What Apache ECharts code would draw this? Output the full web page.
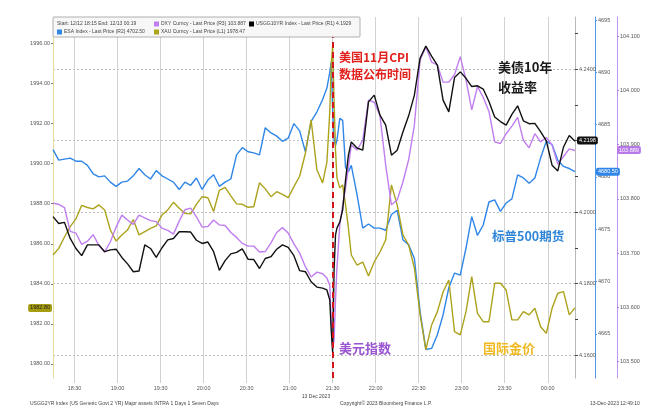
<!DOCTYPE html>
<html><head><meta charset="utf-8">
<script src="https://cdn.jsdelivr.net/npm/echarts@6/dist/echarts.min.js"></script>
<style>html,body{margin:0;padding:0;background:#fff}#c{width:654px;height:410px}</style>
</head><body><div id="c"></div>
<script>
// ---- data ----
const times = [
'18:15','18:19','18:23','18:27','18:31','18:35','18:39','18:43','18:47','18:51',
'18:55','18:59','19:03','19:07','19:11','19:15','19:19','19:23','19:27','19:31',
'19:35','19:39','19:43','19:47','19:51','19:55','19:59','20:03','20:07','20:11',
'20:15','20:19','20:23','20:27','20:31','20:35','20:39','20:43','20:47','20:51',
'20:55','20:59','21:03','21:07','21:11','21:15','21:19','21:23',
'21:26','21:28','21:29','21:30','21:31','21:32','21:33',
'21:35','21:37','21:39','21:41','21:43',
'21:47','21:51','21:55','21:59','22:03','22:07','22:11','22:15','22:19','22:23',
'22:27','22:31','22:35','22:39','22:43','22:47','22:51','22:55','22:59','23:03',
'23:07','23:11','23:15','23:19','23:23','23:27','23:31','23:35','23:39','23:43',
'23:47','23:51','23:55','23:59','00:03','00:07','00:11','00:15','00:19'];

// ESA Index (S&P 500 futures), right axis R2
const esa = [
4682.6,4681.6,4681.7,4681.8,4681.5,4681.5,4681.1,4680.3,4680.0,4680.1,
4679.5,4679.1,4679.5,4679.6,4680.1,4680.8,4680.2,4679.8,4680.6,4680.1,
4679.8,4679.5,4678.8,4679.5,4679.2,4679.9,4678.8,4679.7,4680.2,4679.1,
4679.5,4679.8,4682.1,4682.8,4682.4,4682.3,4682.1,4684.7,4684.2,4683.9,
4683.4,4683.7,4685.1,4684.4,4682.4,4685.3,4686.2,4687.4,
4688.5,4690.0,4691.0,4686.4,4683.5,4683.0,4683.5,
4685.6,4685.4,4680.9,4680.5,4681.1,
4678.3,4675.1,4675.5,4675.1,4675.1,4674.9,4676.4,4676.8,4674.0,4673.5,
4672.2,4667.1,4663.5,4663.6,4664.9,4666.8,4669.4,4670.8,4670.6,4673.2,
4676.2,4674.4,4675.4,4677.6,4677.8,4676.7,4677.5,4677.9,4680.2,4679.9,
4679.4,4679.9,4681.8,4683.4,4683.1,4681.6,4681.0,4680.8,4680.5];

// DXY Curncy (dollar index), right axis R3
const dxy = [
103.792,103.790,103.784,103.740,103.737,103.716,103.722,103.734,103.714,103.702,
103.721,103.748,103.770,103.761,103.753,103.770,103.765,103.760,103.758,103.746,
103.742,103.735,103.759,103.780,103.783,103.767,103.748,103.749,103.761,103.752,
103.751,103.738,103.729,103.718,103.713,103.713,103.702,103.703,103.719,103.738,
103.747,103.737,103.717,103.700,103.675,103.656,103.665,103.662,
103.654,103.641,103.577,103.525,103.540,103.614,103.673,
103.752,103.789,103.820,103.859,103.899,
103.890,103.908,103.982,103.978,103.953,103.862,103.789,103.798,103.831,103.872,
103.936,104.056,104.080,104.052,104.047,104.015,104.015,104.029,104.062,104.019,
103.964,104.007,103.987,103.961,103.905,103.902,103.920,103.934,103.950,103.908,
103.894,103.920,103.905,103.913,103.899,103.864,103.878,103.892,103.889];

// XAU Curncy (gold), left axis L1
const xau = [
1985.44,1985.77,1986.34,1986.86,1987.24,1987.92,1987.81,1987.74,1987.94,1987.69,
1986.69,1986.14,1986.44,1986.69,1987.21,1986.44,1986.61,1986.77,1986.89,1987.44,
1987.69,1988.07,1987.77,1987.52,1987.49,1987.97,1988.35,1988.30,1987.61,1988.67,
1988.82,1988.39,1987.99,1987.97,1987.82,1987.85,1989.05,1988.74,1988.35,1988.60,
1988.47,1988.30,1988.85,1989.37,1990.52,1992.18,1989.70,1989.04,
1990.08,1992.58,1994.93,1995.88,1993.18,1990.68,1989.29,
1988.79,1988.94,1987.94,1986.79,1985.44,
1984.94,1985.09,1984.39,1985.09,1985.59,1986.19,1988.94,1987.94,1986.44,1985.94,
1984.79,1982.45,1980.70,1981.95,1982.60,1983.59,1984.19,1981.61,1981.45,1982.61,
1984.36,1982.53,1982.11,1982.11,1984.03,1984.03,1983.69,1982.20,1982.20,1982.61,
1982.45,1982.78,1981.86,1981.53,1982.78,1983.53,1983.61,1982.45,1982.80];

// USGG10YR Index (10Y yield), right axis R1
const us10y = [
4.1987,4.1968,4.1971,4.1926,4.1898,4.1878,4.1908,4.1908,4.1908,4.1889,
4.1894,4.1896,4.1873,4.1855,4.1833,4.1835,4.1908,4.1898,4.1873,4.1900,
4.1922,4.1926,4.1945,4.1945,4.1944,4.1921,4.1912,4.1916,4.1889,4.1837,
4.1864,4.1883,4.1887,4.1897,4.1868,4.1867,4.1842,4.1870,4.1875,4.1896,
4.1908,4.1901,4.1878,4.1836,4.1833,4.1805,4.1790,4.1787,
4.1782,4.1754,4.1670,4.1608,4.1838,4.1936,4.1955,
4.1972,4.2006,4.2090,4.2159,4.2196,
4.2179,4.2173,4.2308,4.2327,4.2271,4.2243,4.2159,4.2173,4.2224,4.2269,
4.2327,4.2431,4.2464,4.2436,4.2411,4.2313,4.2280,4.2376,4.2392,4.2374,
4.2351,4.2353,4.2344,4.2309,4.2266,4.2253,4.2243,4.2273,4.2297,4.2255,
4.2247,4.2248,4.2225,4.2199,4.2131,4.2115,4.2182,4.2214,4.2198];

const xTickLabels = ['18:30','19:00','19:30','20:00','20:30','21:00','21:30','22:00','22:30','23:00','23:30','00:00'];
const cpiTime = '21:30';
const goldTicks = [1980,1982,1984,1986,1988,1990,1992,1994,1996];
const us10yTicks = [4.16,4.18,4.20,4.22,4.24];
const us10yMinorTicks = [4.16,4.17,4.18,4.19,4.20,4.21,4.22,4.23,4.24,4.25];
const esaTicks = [4665,4670,4675,4680,4685,4690,4695];
const dxyTicks = [103.5,103.6,103.7,103.8,103.9,104.0,104.1];
const legendStart = 'Start: 12/12 18:15 End: 12/13 00:19';
const legendDxy = 'DXY Curncy - Last Price (R3) 103.887';
const legendUs10y = 'USGG10YR Index - Last Price (R1) 4.1929';
const legendEsa = 'ESA Index - Last Price (R2) 4702.50';
const legendXau = 'XAU Curncy - Last Price (L1) 1978.47';

// ---- helpers ----
const toMin = s => { const [h, m] = s.split(':').map(Number); return (h < 12 ? h + 24 : h) * 60 + m - 18 * 60; };
const fmtTime = v => { const t = 18 * 60 + v; const h = Math.floor(t / 60) % 24; const m = t % 60; return String(h).padStart(2, '0') + ':' + String(m).padStart(2, '0'); };
const xs = times.map(toMin);
const pairs = arr => arr.map((v, i) => [xs[i], v]);
const last = arr => arr[arr.length - 1];
const xTickMins = xTickLabels.map(toMin);

const C = { esa: '#2f86e8', dxy: '#c07ef0', xau: '#aca21c', us10y: '#111111', red: '#d3161b' };
const tiny = { fontFamily: 'Liberation Sans', fontSize: 5.5, color: '#555' };
const badge = (arr, bg, fg, dist, pos, dec) => ({
  show: true, position: pos, distance: dist,
  formatter: () => last(arr).toFixed(dec),
  backgroundColor: bg, color: fg, padding: [1, 2], borderRadius: 2,
  fontFamily: 'Liberation Sans', fontSize: 5.5
});
const hiddenLine = { color: 'rgba(0,0,0,0)', width: 0.01, type: 'solid' };

const chart = echarts.init(document.getElementById('c'), null, { renderer: 'canvas' });
const cjk = '"Noto Sans CJK SC"';
const txt = (text, x, y, size, color) => ({
  type: 'text', x, y, z: 100,
  style: { text, font: 'bold ' + size + 'px ' + cjk, fill: color, align: 'left', verticalAlign: 'middle' }
});
const small = (text, x, y, align) => ({
  type: 'text', x, y, z: 101,
  style: { text, font: '5px "Liberation Sans"', fill: '#444', align: align || 'left', verticalAlign: 'middle' }
});
const sq = (x, y, color) => ({ type: 'rect', z: 101, shape: { x, y, width: 5, height: 5 }, style: { fill: color } });

chart.setOption({
  animation: false,
  backgroundColor: '#ffffff',
  grid: { left: 53, right: 79, top: 17, bottom: 32, containLabel: false, outerBoundsMode: 'none' },
  xAxis: {
    type: 'value', min: xs[0], max: last(xs),
    axisLine: { show: false },
    axisTick: { show: true, length: 5, customValues: xTickMins, lineStyle: { color: '#cfcfcf' } },
    axisLabel: { customValues: xTickMins, formatter: v => fmtTime(v), margin: 7, ...tiny },
    splitLine: { show: true, lineStyle: { color: '#d2d2d2', width: 1 } }
  },
  yAxis: [
    { type: 'value', position: 'left', min: 1979.30, max: 1997.32,
      axisLine: { show: true, lineStyle: { color: '#e4dd9c', width: 1 } },
      axisTick: { show: true, length: 2, customValues: goldTicks, lineStyle: { color: '#777' } },
      axisLabel: { customValues: goldTicks, formatter: v => v.toFixed(2), margin: 3, ...tiny },
      splitLine: { show: false } },
    { type: 'value', position: 'right', offset: 0, min: 4.15357, max: 4.25455,
      axisLine: { show: true, lineStyle: { color: '#b8b8b8', width: 1 } },
      axisTick: { show: true, length: 3, customValues: us10yMinorTicks, lineStyle: { color: '#444' } },
      axisLabel: { customValues: us10yTicks, formatter: v => v.toFixed(4), margin: 4, ...tiny },
      splitLine: { show: false } },
    { type: 'value', position: 'right', offset: 20, min: 4660.77, max: 4695.29,
      axisLine: { show: true, lineStyle: { color: '#4d98ea', width: 1 } },
      axisTick: { show: true, length: 2, customValues: esaTicks, lineStyle: { color: '#4d98ea' } },
      axisLabel: { customValues: esaTicks, formatter: v => String(v), margin: 3, ...tiny },
      splitLine: { show: false } },
    { type: 'value', position: 'right', offset: 42, min: 103.47, max: 104.135,
      axisLine: { show: true, lineStyle: { color: '#c693ec', width: 1 } },
      axisTick: { show: true, length: 2, customValues: dxyTicks, lineStyle: { color: '#b57de6' } },
      axisLabel: { customValues: dxyTicks, formatter: v => v.toFixed(3), margin: 3, ...tiny },
      splitLine: { show: false } },
    { type: 'value', position: 'right', offset: 0, min: 4.15357, max: 4.25455,
      axisLine: { show: false },
      axisTick: { show: false, customValues: us10yTicks },
      axisLabel: { show: false, customValues: us10yTicks },
      splitLine: { show: true, lineStyle: { color: '#bdbdbd', width: 1, type: [2, 2] } } }
  ],
  series: [
    { type: 'line', name: 'ESA Index', yAxisIndex: 2, data: pairs(esa), showSymbol: false, z: 3,
      lineStyle: { color: C.esa, width: 1.4 }, itemStyle: { color: C.esa },
      markLine: { silent: true, symbol: 'none', z: 20, lineStyle: hiddenLine,
        data: [{ yAxis: last(esa), label: badge(esa, C.esa, '#fff', 21, 'end', 2) }] } },
    { type: 'line', name: 'XAU Curncy', yAxisIndex: 0, data: pairs(xau), showSymbol: false, z: 4,
      lineStyle: { color: C.xau, width: 1.4 }, itemStyle: { color: C.xau },
      markLine: { silent: true, symbol: 'none', z: 20,
        data: [
          { yAxis: last(xau), lineStyle: hiddenLine, label: badge(xau, '#a59c12', '#222', 1, 'start', 2) },
          { xAxis: toMin(cpiTime), lineStyle: { color: C.red, width: 2, type: [6, 4] }, label: { show: false } }
        ] } },
    { type: 'line', name: 'DXY Curncy', yAxisIndex: 3, data: pairs(dxy), showSymbol: false, z: 5,
      lineStyle: { color: C.dxy, width: 1.4 }, itemStyle: { color: C.dxy },
      markLine: { silent: true, symbol: 'none', z: 20, lineStyle: hiddenLine,
        data: [{ yAxis: last(dxy), label: badge(dxy, '#b778e8', '#fff', 42, 'end', 3) }] } },
    { type: 'line', name: 'USGG10YR Index', yAxisIndex: 1, data: pairs(us10y), showSymbol: false, z: 6,
      lineStyle: { color: C.us10y, width: 1.4 }, itemStyle: { color: C.us10y },
      markLine: { silent: true, symbol: 'none', z: 20, lineStyle: hiddenLine,
        data: [{ yAxis: last(us10y), label: badge(us10y, '#111', '#fff', 2, 'end', 4) }] } }
  ],
  graphic: [
    { type: 'rect', z: 100, shape: { x: 53, y: 17, width: 307, height: 20, r: 1 },
      style: { fill: '#f7f7f7', stroke: '#9c9c9c', lineWidth: 0.8 } },
    small(legendStart, 57, 24),
    sq(154, 21.5, C.dxy), small(legendDxy, 161, 24),
    sq(249, 21.5, '#000'), small(legendUs10y, 256, 24),
    sq(57, 29.5, C.esa), small(legendEsa, 64, 32),
    sq(154, 29.5, C.xau), small(legendXau, 161, 32),
    txt('美国11月CPI', 339, 57, 12, '#e2201c'),
    txt('数据公布时间', 339, 74, 12, '#e2201c'),
    txt('美债10年', 498, 67, 13, '#1a1a1a'),
    txt('收益率', 498, 87, 13, '#1a1a1a'),
    txt('标普500期货', 492, 236, 12.5, '#2f86d8'),
    txt('美元指数', 339, 348, 13, '#9a55d2'),
    txt('国际金价', 483, 348, 13, '#f0b820'),
    small('13 Dec 2023', 316, 397, 'center'),
    small('USGG2YR Index (US Generic Govt 2 YR) Major assets INTRA 1 Days 1 Seven Days', 30, 404),
    small('Copyright\u00A9 2023 Bloomberg Finance L.P.', 340, 404),
    small('13-Dec-2023 12:49:10', 590, 404)
  ]
});
</script>
</body></html>
